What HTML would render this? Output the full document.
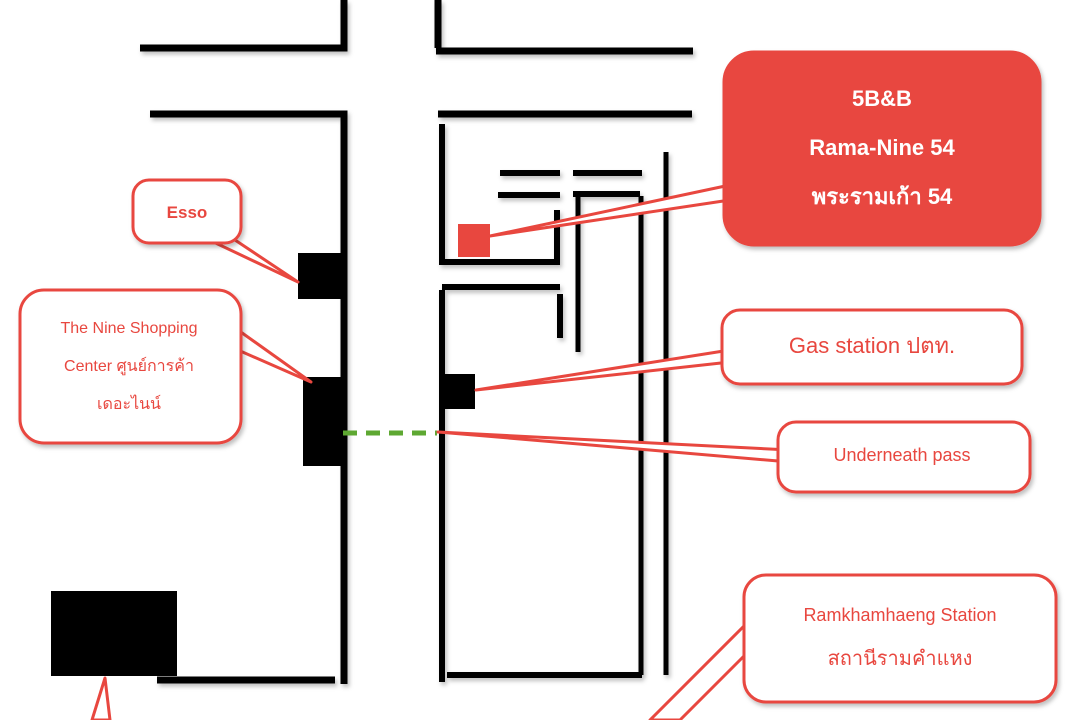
<!DOCTYPE html>
<html><head><meta charset="utf-8"><style>
html,body{margin:0;padding:0;background:#fff;}
svg{display:block}
text{font-family:"Liberation Sans","Noto Sans CJK SC",sans-serif;}
</style></head><body>
<svg width="1080" height="720" viewBox="0 0 1080 720" xmlns="http://www.w3.org/2000/svg">
<defs>
<filter id="sh" x="-10%" y="-10%" width="130%" height="130%"><feDropShadow dx="2" dy="3" stdDeviation="2" flood-color="#000" flood-opacity="0.25"/></filter>
</defs>
<g stroke="#000" stroke-width="7" fill="none" filter="url(#sh)">
<path d="M140 48H344V0"/>
<path d="M438 0V48M436 51H693"/>
<path d="M150 114H344V684"/>
<path d="M438 114H692"/>
<path d="M442 124V262H557V210" stroke-width="6"/>
<path d="M500 173H560M573 173H642M498 195H560M573 194H640" stroke-width="6"/>
<path d="M578 196V352M641 196V675M666 152V675" stroke-width="5"/>
<path d="M442 287H560M560 294V338M442 290V682M447 675H642" stroke-width="6"/>
<path d="M157 680H335"/>
</g>
<g fill="#000">
<rect x="298" y="253" width="43" height="46"/>
<rect x="303" y="377" width="38" height="89"/>
<rect x="442" y="374" width="33" height="35"/>
<rect x="51" y="591" width="126" height="85"/>
</g>
<rect x="458" y="224" width="32" height="33" fill="#e8473f"/>
<line x1="343" y1="433" x2="437" y2="433" stroke="#5ea832" stroke-width="5" stroke-dasharray="14,9"/>
<g fill="#fff" stroke="#e8473f" stroke-width="3" stroke-linejoin="round">
<polygon points="205,238 232,238 298,282"/>
<polygon points="238,330 238,350 311,382"/>
<polygon points="490,236 730,185 730,200"/>
<polygon points="476,390 730,350 730,362"/>
<polygon points="438,432 790,450 790,462"/>
<polygon points="650,720 680,720 760,640 745,625"/>
<polygon points="105,678 92,720 110,720"/>
<rect x="133" y="180" width="108" height="63" rx="16" filter="url(#sh)"/>
<rect x="20" y="290" width="221" height="153" rx="24" filter="url(#sh)"/>
<rect x="722" y="310" width="300" height="74" rx="18" filter="url(#sh)"/>
<rect x="778" y="422" width="252" height="70" rx="18" filter="url(#sh)"/>
<rect x="744" y="575" width="312" height="127" rx="22" filter="url(#sh)"/>
<rect x="724" y="52" width="316" height="193" rx="30" fill="#e8473f" filter="url(#sh)"/>
</g>
<g fill="#e8473f" text-anchor="middle" font-weight="bold">
<text x="187" y="218" font-size="17">Esso</text>
<text x="129" y="333" font-size="16" font-weight="normal">The Nine Shopping</text>
<text x="129" y="371" font-size="16" font-weight="normal">Center ศูนย์การค้า</text>
<text x="129" y="409" font-size="16" font-weight="normal">เดอะไนน์</text>
<text x="872" y="353" font-size="22" font-weight="normal">Gas station ปตท.</text>
<text x="902" y="461" font-size="18" font-weight="normal">Underneath pass</text>
<text x="900" y="621" font-size="18" font-weight="normal">Ramkhamhaeng Station</text>
<text x="900" y="665" font-size="20" font-weight="normal">สถานีรามคำแหง</text>
</g>
<g fill="#fff" text-anchor="middle" font-size="22" font-weight="bold">
<text x="882" y="106">5B&amp;B</text>
<text x="882" y="155">Rama-Nine 54</text>
<text x="882" y="204">พระรามเก้า 54</text>
</g>
</svg>
</body></html>
